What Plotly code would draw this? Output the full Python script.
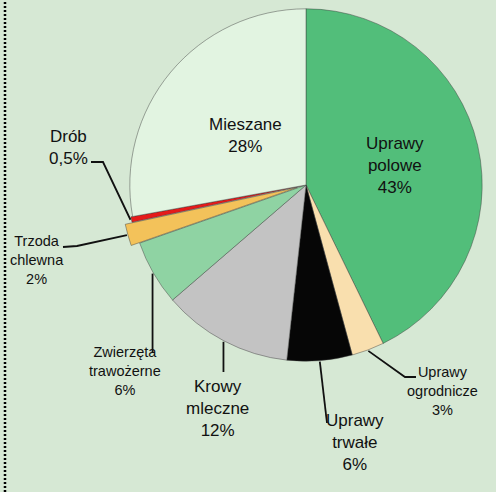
import math
import plotly.graph_objects as go

W, H = 496, 492

categories = ["Uprawy polowe", "Uprawy ogrodnicze", "Uprawy trwałe", "Krowy mleczne",
              "Zwierzęta trawożerne", "Trzoda chlewna", "Drób", "Mieszane"]
values = [43, 3, 6, 12, 6, 2, 0.5, 28]
pct_labels = ["43%", "3%", "6%", "12%", "6%", "2%", "0,5%", "28%"]
label_lines = [["Uprawy", "polowe"], ["Uprawy", "ogrodnicze"], ["Uprawy", "trwałe"],
               ["Krowy", "mleczne"], ["Zwierzęta", "trawożerne"], ["Trzoda", "chlewna"],
               ["Drób"], ["Mieszane"]]
colors = ["#52BE7A", "#F9DFAE", "#060606", "#C3C3C3", "#8FD3A3", "#F3C25A", "#E51A1A", "#E2F4E1"]
pulls = [0, 0, 0, 0, 0, 0.05, 0.01, 0]

# pie placement (pixels)
CX, CY = 306, 185
HALF = 185
maxpull = max(pulls)
R = HALF / (1 + maxpull)

def px(x):
    return x / W

def py(y):
    return 1 - y / H

total = sum(values)
cum = 0
mids = []
for v in values:
    mids.append((cum + v / 2) / total * 2 * math.pi)
    cum += v

def edge(i, extra=1):
    a = mids[i]
    r = R * (1 + pulls[i]) + extra
    return CX + r * math.sin(a), CY - r * math.cos(a)

fig = go.Figure()
fig.add_trace(go.Pie(
    labels=categories, values=values, sort=False, direction="clockwise", rotation=0,
    marker=dict(colors=colors, line=dict(color="rgba(60,60,60,0.45)", width=1)),
    pull=pulls, textinfo="none", hoverinfo="label+percent", showlegend=False,
    domain=dict(x=[px(CX - HALF), px(CX + HALF)], y=[py(CY + HALF), py(CY - HALF)]),
))

FONT = "Liberation Sans Narrow, Arial Narrow, Liberation Sans, Arial"
# label layout: (x, y of text block center, font size)
label_pos = {
    0: (395, 165, 17),
    1: (442, 391, 14.5),
    2: (355, 442, 17),
    3: (217, 408, 17),
    4: (125, 371, 14.5),
    5: (37, 260, 14.5),
    6: (68, 147, 17),
    7: (245, 136, 17),
}
annotations = []
for i, (x, y, fs) in label_pos.items():
    txt = "<br>".join(label_lines[i] + [pct_labels[i]])
    annotations.append(dict(x=px(x), y=py(y), xref="paper", yref="paper", text=txt,
                            showarrow=False, xanchor="center", yanchor="middle",
                            font=dict(family=FONT, size=fs, color="#111111"),
                            align="center"))

# leader lines: label-side points, ending at slice edge computed from data
leader_start = {
    6: [(91, 162), (103, 162)],
    5: [(63, 247), (77, 246)],
    4: [(None, 352)],
    3: [(None, 372)],
    2: [(327, 423)],
    1: [(416, 377), (405, 377)],
}
shapes = []
for i, pts in leader_start.items():
    ex, ey = edge(i)
    coords = []
    for (x, y) in pts:
        coords.append((ex if x is None else x, y))
    coords.append((ex, ey))
    path = "M " + " L ".join(f"{px(x):.5f},{py(y):.5f}" for x, y in coords)
    shapes.append(dict(type="path", path=path, xref="paper", yref="paper",
                       line=dict(color="#111111", width=1.8)))

# dotted border on the left
shapes.append(dict(type="line", x0=px(5), x1=px(5), y0=0, y1=1, xref="paper", yref="paper",
                   line=dict(color="#000000", width=2.5, dash="2px,2px")))

fig.update_layout(
    width=W, height=H,
    margin=dict(l=0, r=0, t=0, b=0),
    paper_bgcolor="#D6E8D4", plot_bgcolor="#D6E8D4",
    annotations=annotations, shapes=shapes,
)
fig.write_html("out.html", config={"displayModeBar": False},
               post_script="document.body.style.margin='0';document.body.style.overflow='hidden';")
